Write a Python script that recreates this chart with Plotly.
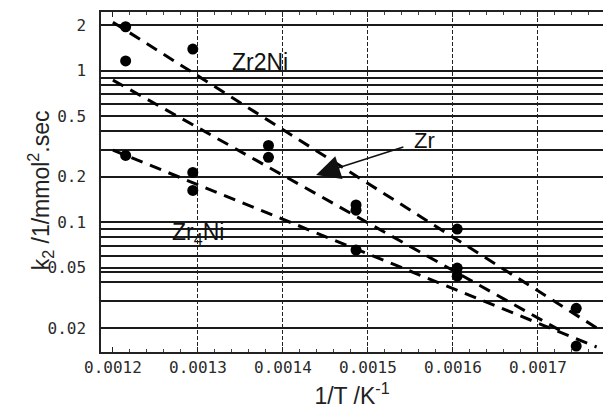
import math
import plotly.graph_objects as go

# reciprocal reaction temperatures, 1/K
inv_T = [0.001215, 0.001294, 0.001383, 0.001486, 0.001605, 0.001745]

# second-order rate constants k2 (1/mmol^2.sec)
k2_Zr2Ni = [1.95, 1.39, 0.321, 0.13, 0.090, 0.027]
k2_Zr = [1.16, 0.213, 0.268, 0.12, 0.0498, None]
k2_Zr4Ni = [0.276, 0.162, None, 0.0655, 0.044, 0.0152]

# dashed Arrhenius lines (end points)
line_Zr2Ni_x = [0.0012, 0.001773]
line_Zr2Ni_y = [2.09, 0.0194]
line_Zr_x = [0.0012, 0.001726]
line_Zr_y = [0.867, 0.0193]
line_Zr4Ni_x = [0.0012, 0.001769]
line_Zr4Ni_y = [0.299, 0.0150]

x_ticks = [0.0012, 0.0013, 0.0014, 0.0015, 0.0016, 0.0017]
x_tick_text = ["0.0012", "0.0013", "0.0014", "0.0015", "0.0016", "0.0017"]
x_grid = [0.0013, 0.0014, 0.0015, 0.0016, 0.0017]

y_ticks = [2, 1, 0.5, 0.2, 0.1, 0.05, 0.02]
y_tick_text = ["2", "1", "0.5", "0.2", "0.1", "0.05", "0.02"]
y_grid_extra = [0.9, 0.8, 0.7, 0.6, 0.4, 0.3,
                0.09, 0.08, 0.07, 0.06, 0.047, 0.04, 0.03]

x_range = [0.001186, 0.0017765]
y_range = [0.0139, 2.44]

# label positions
lab_Zr2Ni = (0.001373, 1.14)
lab_Zr4Ni = (0.001300, 0.0847)
lab_Zr = (0.001567, 0.348)
arrow_tip_Zr = (0.001439, 0.205)

TXT = "Liberation Sans"
MONO = "DejaVu Sans Mono"
GRID = "#1a1a1a"

fig = go.Figure()

dash_line = dict(color="black", width=3, dash="12px,8px")
for lx, ly in [(line_Zr2Ni_x, line_Zr2Ni_y), (line_Zr_x, line_Zr_y),
               (line_Zr4Ni_x, line_Zr4Ni_y)]:
    fig.add_trace(go.Scatter(x=lx, y=ly, mode="lines", line=dash_line,
                             hoverinfo="skip", showlegend=False))

for ser in [k2_Zr2Ni, k2_Zr, k2_Zr4Ni]:
    fig.add_trace(go.Scatter(x=inv_T, y=ser, mode="markers",
                             marker=dict(color="black", size=11),
                             showlegend=False))

# helper trace carrying the vertical grid axis
fig.add_trace(go.Scatter(x=[None], y=[None], xaxis="x2", yaxis="y",
                         showlegend=False, hoverinfo="skip"))

fig.update_layout(
    width=603, height=412,
    margin=dict(l=101, r=0, t=12, b=60),
    paper_bgcolor="white", plot_bgcolor="white",
    showlegend=False,
    xaxis=dict(
        range=x_range, tickvals=x_ticks, ticktext=x_tick_text,
        showgrid=False, zeroline=False,
        showline=True, linecolor="#222", linewidth=1.5, mirror="ticks",
        ticks="inside", ticklen=5, tickcolor="#222",
        minor=dict(dtick=0.00002, tick0=0.0012, ticks="inside", ticklen=3,
                   tickcolor="#444", showgrid=False),
        tickfont=dict(family=MONO, size=16, color="#2a2a2a"),
        title=dict(text="1/T /K<sup>-1</sup>",
                   font=dict(family=TXT, size=23, color="#222"), standoff=12),
    ),
    xaxis2=dict(
        range=x_range, overlaying="x", side="bottom",
        tickvals=x_grid, showticklabels=False, ticks="",
        showgrid=True, gridcolor="#222", gridwidth=1, griddash="4px,2px",
        showline=False, zeroline=False,
    ),
    yaxis=dict(
        type="log", range=[math.log10(y_range[0]), math.log10(y_range[1])],
        tickvals=y_ticks, ticktext=y_tick_text,
        showgrid=True, gridcolor=GRID, gridwidth=1.5,
        minor=dict(tickvals=y_grid_extra, showgrid=True, gridcolor=GRID,
                   gridwidth=1.5, ticks=""),
        showline=True, linecolor="#222", linewidth=1.5, mirror=False,
        ticks="", zeroline=False, ticklabelstandoff=10,
        tickfont=dict(family=MONO, size=16, color="#2a2a2a"),
    ),
)

fig.add_annotation(
    xref="paper", yref="paper", x=-0.157, y=0.476,
    text="k<sub>2</sub> /1/mmol<sup>2</sup>.sec", textangle=-90,
    showarrow=False, font=dict(family=TXT, size=23, color="#222"),
)

ann_font = dict(family=TXT, size=23, color="#111")
fig.add_annotation(x=lab_Zr2Ni[0], y=math.log10(lab_Zr2Ni[1]), text="Zr2Ni",
                   showarrow=False, font=ann_font)
fig.add_annotation(x=lab_Zr4Ni[0], y=math.log10(lab_Zr4Ni[1]),
                   text="Zr<sub>4</sub>Ni", showarrow=False, font=ann_font)
fig.add_annotation(
    x=arrow_tip_Zr[0], y=math.log10(arrow_tip_Zr[1]),
    ax=lab_Zr[0], ay=math.log10(lab_Zr[1]), axref="x", ayref="y",
    text="Zr", showarrow=True, arrowhead=2, arrowsize=3, arrowwidth=1.6,
    arrowcolor="#111", startstandoff=10,
    font=dict(family=TXT, size=22, color="#111"),
)

fig.write_html("out.html")
